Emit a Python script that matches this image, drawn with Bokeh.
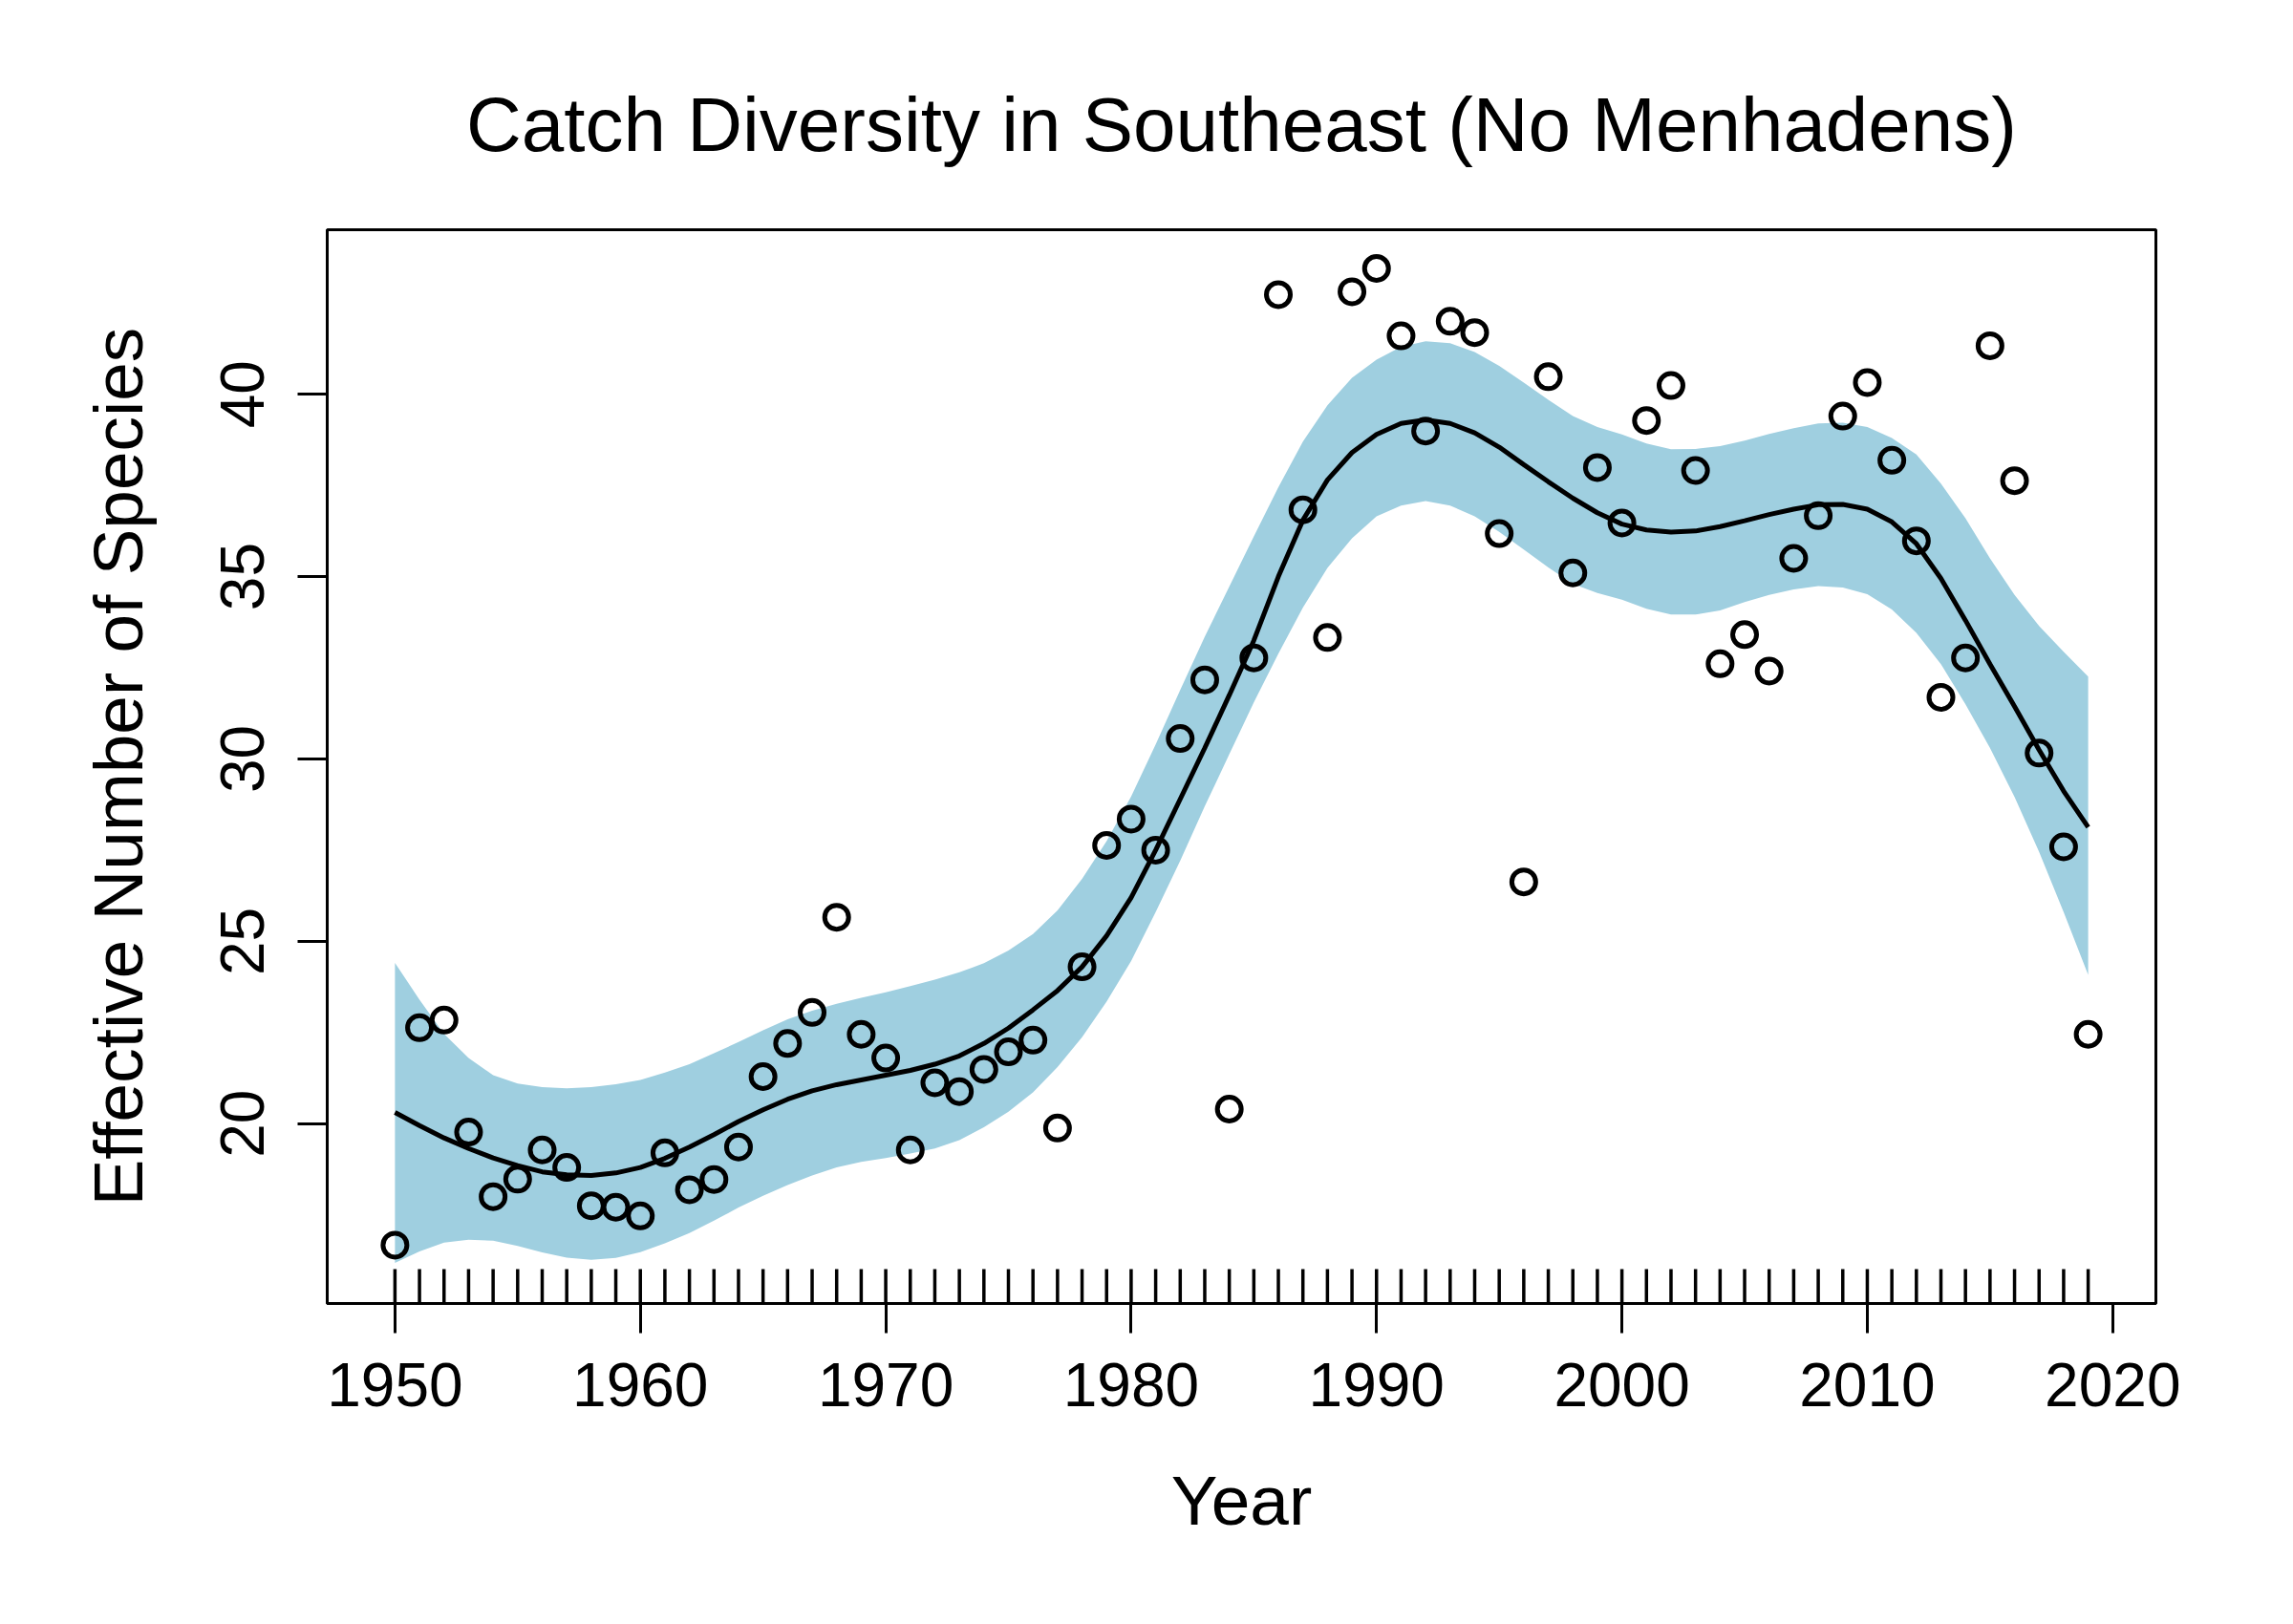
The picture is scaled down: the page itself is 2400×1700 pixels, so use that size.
from bokeh.plotting import figure
from bokeh.embed import file_html
from bokeh.resources import INLINE
from bokeh.models import Range1d, FixedTicker, Title

# observed catch diversity, one value per year 1950-2019
years = list(range(1950, 2020))
diversity = [16.67, 22.63, 22.84, 19.77, 18.0, 18.48, 19.28, 18.8, 17.75, 17.71,
             17.47, 19.2, 18.19, 18.47, 19.36, 21.29, 22.2, 23.05, 25.66, 22.45,
             21.8, 19.28, 21.12, 20.88, 21.49, 21.97, 22.29, 19.88, 24.3, 27.63,
             28.35, 27.5, 30.56, 32.17, 20.4, 32.77, 42.73, 36.83, 33.33, 42.81,
             43.45, 41.6, 38.99, 42.0, 41.69, 36.18, 26.63, 40.48, 35.1, 37.99,
             36.47, 39.28, 40.24, 37.91, 32.61, 33.41, 32.41, 35.5, 36.67, 39.4,
             40.32, 38.19, 35.98, 31.69, 32.77, 41.33, 37.63, 30.16, 27.59, 22.45]

# smooth fit and its confidence band (yearly)
fit_mid = [20.31, 19.95, 19.61, 19.32, 19.06, 18.85, 18.68, 18.6, 18.58, 18.65,
           18.8, 19.05, 19.36, 19.7, 20.06, 20.38, 20.67, 20.9, 21.07, 21.2,
           21.33, 21.46, 21.63, 21.86, 22.2, 22.62, 23.12, 23.65, 24.3, 25.15,
           26.2, 27.5, 28.9, 30.3, 31.75, 33.25, 35.0, 36.55, 37.65, 38.4,
           38.9, 39.2, 39.3, 39.2, 38.94, 38.55, 38.07, 37.6, 37.15, 36.75,
           36.44, 36.28, 36.22, 36.25, 36.37, 36.53, 36.7, 36.85, 36.97, 36.98,
           36.85, 36.5, 35.9, 34.95, 33.8, 32.6, 31.44, 30.25, 29.12, 28.13]
fit_upper = [24.41, 23.4, 22.46, 21.8, 21.33, 21.1, 21.0, 20.97, 21.0, 21.08,
             21.2, 21.4, 21.63, 21.93, 22.24, 22.56, 22.86, 23.1, 23.29, 23.45,
             23.6, 23.77, 23.95, 24.15, 24.4, 24.75, 25.2, 25.85, 26.71, 27.75,
             28.97, 30.4, 31.89, 33.35, 34.73, 36.1, 37.45, 38.7, 39.7, 40.45,
             40.95, 41.3, 41.45, 41.4, 41.16, 40.78, 40.32, 39.85, 39.4, 39.1,
             38.9, 38.65, 38.49, 38.5, 38.58, 38.73, 38.91, 39.07, 39.2, 39.22,
             39.1, 38.8, 38.35, 37.55, 36.6, 35.5, 34.5, 33.65, 32.94, 32.26]
fit_lower = [16.18, 16.5, 16.74, 16.82, 16.79, 16.65, 16.47, 16.33, 16.27, 16.32,
             16.48, 16.72, 17.0, 17.34, 17.7, 18.02, 18.32, 18.58, 18.8, 18.95,
             19.06, 19.18, 19.32, 19.55, 19.9, 20.33, 20.86, 21.55, 22.37, 23.35,
             24.46, 25.8, 27.21, 28.7, 30.13, 31.55, 32.89, 34.15, 35.24, 36.05,
             36.65, 36.95, 37.07, 36.95, 36.65, 36.23, 35.74, 35.25, 34.8, 34.55,
             34.37, 34.12, 33.96, 33.96, 34.07, 34.3, 34.5, 34.65, 34.74, 34.7,
             34.52, 34.1, 33.46, 32.6, 31.5, 30.3, 28.96, 27.45, 25.8, 24.08]

x_ticks = [1950, 1960, 1970, 1980, 1990, 2000, 2010, 2020]
y_ticks = [20, 25, 30, 35, 40]

font = "Liberation Sans"
band_color = "#9FCFE0"

frame_h = 1124
y_lo, y_hi = 15.07, 44.51

p = figure(frame_width=1914, frame_height=frame_h,
           min_border_left=342, min_border_right=126,
           min_border_top=240, min_border_bottom=312,
           x_range=Range1d(1947.24, 2021.76), y_range=Range1d(y_lo, y_hi),
           output_backend="svg", toolbar_location=None)

p.title = Title(text="Catch Diversity in Southeast (No Menhadens)", align="center",
                text_font=font, text_font_size="80px", text_font_style="normal",
                text_color="black", standoff=131)

p.xgrid.visible = False
p.ygrid.visible = False
p.outline_line_color = "black"
p.outline_line_width = 3

# band, fit, points
p.varea(x=years, y1=fit_lower, y2=fit_upper, fill_color=band_color)
p.line(years, fit_mid, line_color="black", line_width=5)
p.scatter(years, diversity, marker="circle", size=25, fill_color=None,
          line_color="black", line_width=5)

# rug along the bottom edge, 36px tall
rug_len = 36 * (y_hi - y_lo) / frame_h
p.segment(x0=years, y0=[y_lo] * len(years), x1=years, y1=[y_lo + rug_len] * len(years),
          line_color="black", line_width=3.5)

for ax in (p.xaxis, p.yaxis):
    ax.axis_line_color = "black"
    ax.axis_line_width = 3
    ax.major_tick_line_width = 3
    ax.major_tick_out = 31
    ax.major_tick_in = 0
    ax.minor_tick_line_color = None
    ax.major_label_text_font = font
    ax.major_label_text_font_size = "64px"
    ax.major_label_text_color = "black"
    ax.axis_label_text_font = font
    ax.axis_label_text_font_size = "73px"
    ax.axis_label_text_font_style = "normal"
    ax.axis_label_text_color = "black"

p.xaxis.ticker = FixedTicker(ticks=x_ticks)
p.yaxis.ticker = FixedTicker(ticks=y_ticks)
p.xaxis.axis_label = "Year"
p.yaxis.axis_label = "Effective Number of Species"
p.yaxis.major_label_orientation = "vertical"
p.xaxis.major_label_standoff = 31
p.yaxis.major_label_standoff = 35
p.xaxis.axis_label_standoff = 55
p.yaxis.axis_label_standoff = 65

open("out.html", "w").write(file_html(p, INLINE))
